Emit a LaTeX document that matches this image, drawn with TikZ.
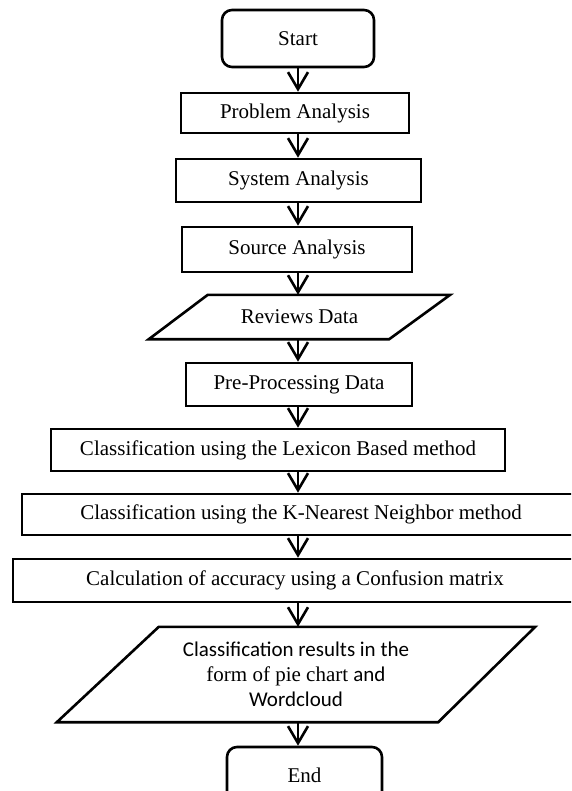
\documentclass[tikz,border=0pt]{standalone}
\usepackage{fontspec}
\setmainfont{Liberation Serif}
\newfontfamily\calfont{Carlito}
\usetikzlibrary{arrows.meta,calc}
\tikzset{
  box/.style={draw,line width=2.6pt,inner sep=0pt,font=\fontsize{21}{25}\selectfont},
  term/.style={box,rounded corners=10pt},
  io/.style={inner sep=0pt,font=\fontsize{21}{25}\selectfont,align=center},
  arr/.style={line width=2.6pt,-{Straight Barb[length=17pt,width=20pt]}}
}
\begin{document}
\begin{tikzpicture}[x=1pt,y=-1pt]
\useasboundingbox (0,0) rectangle (571,791);
\clip (0,0) rectangle (571,791);
\coordinate (axis) at (298,0);
% steps
\node[term,minimum width=152pt,minimum height=57pt] (start) at (298,38.5) {Start};
\node[box,minimum width=228pt,minimum height=40pt] (prob) at (295,113) {Problem Analysis};
\node[box,minimum width=245pt,minimum height=43pt] (sys) at (298.5,180.5) {System Analysis};
\node[box,minimum width=230pt,minimum height=45pt] (src) at (297,249.5) {Source Analysis};
\node[io,minimum width=301pt,minimum height=44pt] (rev) at (299.5,317) {Reviews Data};
\node[box,minimum width=226pt,minimum height=43pt] (pre) at (299,384.5) {Pre-Processing Data};
\node[box,minimum width=454pt,minimum height=42pt] (lex) at (278,450) {Classification using the Lexicon Based method};
\node[box,minimum width=558pt,minimum height=41pt] (knn) at (301,514.5) {Classification using the K-Nearest Neighbor method};
\node[box,minimum width=564pt,minimum height=43pt] (conf) at (295,580.5) {Calculation of accuracy using a Confusion matrix};
\node[io,minimum width=478pt,minimum height=95pt] (res) at (296,674.5)
  {{\calfont Classification results in the}\\form of pie chart {\calfont and}\\{\calfont Wordcloud}};
\node[term,minimum width=155pt,minimum height=57pt] (end) at (304.5,775.5) {End};
% data shapes
\draw[line width=2.6pt] ($(rev.north west)+(59,0)$) -- (rev.north east)
  -- ($(rev.south east)-(61,0)$) -- (rev.south west) -- cycle;
\draw[line width=2.6pt] ($(res.north west)+(102,0)$) -- (res.north east)
  -- ($(res.south east)-(97,0)$) -- (res.south west) -- cycle;
% flow
\draw[arr] (start.south -| axis) -- (prob.north -| axis);
\draw[arr] (prob.south -| axis) -- (sys.north -| axis);
\draw[arr] (sys.south -| axis) -- (src.north -| axis);
\draw[arr] (src.south -| axis) -- (rev.north -| axis);
\draw[arr] (rev.south -| axis) -- (pre.north -| axis);
\draw[arr] (pre.south -| axis) -- (lex.north -| axis);
\draw[arr] (lex.south -| axis) -- (knn.north -| axis);
\draw[arr] (knn.south -| axis) -- (conf.north -| axis);
\draw[arr] (conf.south -| axis) -- (res.north -| axis);
\draw[arr] (res.south -| axis) -- (end.north -| axis);
\end{tikzpicture}
\end{document}
